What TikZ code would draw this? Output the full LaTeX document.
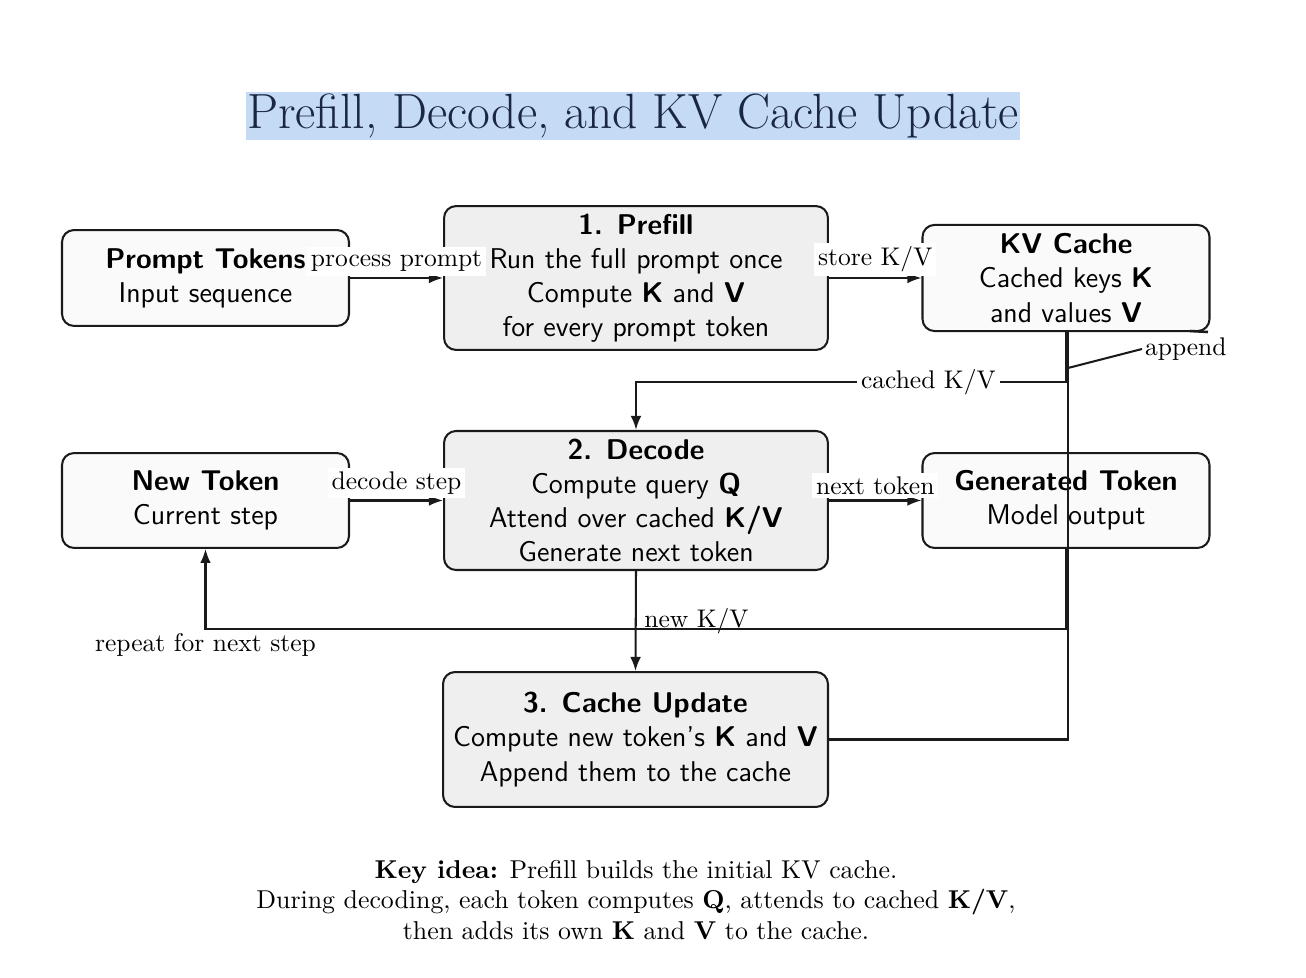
\documentclass[tikz,border=0pt]{standalone}
\usetikzlibrary{arrows.meta,positioning}
\definecolor{titlebg}{HTML}{C5DAF5}
\definecolor{titlefg}{HTML}{1A2744}
\definecolor{boxlight}{HTML}{FAFAFA}
\definecolor{boxgray}{HTML}{EFEFEF}
\definecolor{edgecol}{HTML}{1A1A1A}
\begin{document}
\begin{tikzpicture}[x=0.392pt,y=-0.392pt,
  box/.style={draw=edgecol, line width=0.8pt, rounded corners=4.7pt, align=center,
    font=\sffamily\fontsize{11.2}{13.4}\selectfont, inner sep=0pt},
  lightbox/.style={box, fill=boxlight},
  graybox/.style={box, fill=boxgray},
  conn/.style={draw=edgecol, line width=0.8pt},
  arr/.style={conn, -{Latex[length=5.5pt,width=4.2pt]}},
  elabel/.style={font=\fontsize{10}{12}\selectfont, fill=white, inner sep=1.5pt},
  plabel/.style={font=\fontsize{10}{12}\selectfont},
]
\useasboundingbox (0,0) rectangle (1306,978);

% title
\node[fill=titlebg, text=titlefg, font=\fontsize{19.4}{23}\selectfont,
      minimum width=303.4pt, minimum height=18.8pt, inner sep=0pt] (title) at (633,116)
  {Prefill, Decode, and KV Cache Update};

% boxes
\node[lightbox, minimum width=112.5pt, minimum height=37.6pt] (prompt) at (205.5,278)
  {\textbf{Prompt Tokens}\\Input sequence};
\node[graybox, minimum width=150.5pt, minimum height=56.4pt] (prefill) at (636,278)
  {\textbf{1. Prefill}\\Run the full prompt once\\Compute \textbf{K} and \textbf{V}\\for every prompt token};
\node[lightbox, minimum width=112.5pt, minimum height=41.6pt] (kv) at (1066,278)
  {\textbf{KV Cache}\\Cached keys \textbf{K}\\and values \textbf{V}};

\node[lightbox, minimum width=112.5pt, minimum height=37.2pt] (newtok) at (205.5,500.5)
  {\textbf{New Token}\\Current step};
\node[graybox, minimum width=150.5pt, minimum height=54.5pt] (decode) at (636,500.5)
  {\textbf{2. Decode}\\Compute query \textbf{Q}\\Attend over cached \textbf{K/V}\\Generate next token};
\node[lightbox, minimum width=112.5pt, minimum height=37.2pt] (gen) at (1066,500.5)
  {\textbf{Generated Token}\\Model output};

\node[graybox, minimum width=150.9pt, minimum height=52.9pt] (update) at (635.5,739.5)
  {\textbf{3. Cache Update}\\Compute new token's \textbf{K} and \textbf{V}\\Append them to the cache};

% connectors
\draw[arr] (prompt.east) -- node[elabel, midway, above=0.5pt] {process prompt} (prefill.west);
\draw[arr] (prefill.east) -- node[elabel, midway, above=0.5pt] {store K/V} (kv.west);
\draw[arr] (newtok.east) -- node[elabel, midway, above=0.5pt] {decode step} (decode.west);
\draw[arr] (decode.east) -- node[elabel, midway, above=0.5pt] {next token} (gen.west);

\coordinate (c1) at (1066,382);
\coordinate (c2) at (636,382);
\draw[arr] (kv.south) -- (c1) -- node[elabel, pos=0.32] {cached K/V} (c2) -- (decode.north);

\draw[arr] (decode.south) -- node[plabel, midway, anchor=west, inner sep=3pt] {new K/V} (update.north);

\coordinate (r1) at (1066,629);
\coordinate (r2) at (205.5,629);
\draw[arr] (gen.south) -- (r1) -- (r2) node[plabel, below, inner sep=1.5pt] {repeat for next step} -- (newtok.south);

\draw[conn] (update.east) -| ([xshift=0.8pt]kv.south);
\coordinate (apin) at (1068,368);
\node[plabel, anchor=west, inner sep=1pt] (applbl) at (1142,349) {append};
\draw[conn] (apin) -- (applbl.west);
\draw[edgecol, line width=1pt] (1190,331) -- (1208,332);

% note
\node[align=center, font=\fontsize{10.12}{12.1}\selectfont] (note) at (636,900)
  {\textbf{Key idea:} Prefill builds the initial KV cache.\\
   During decoding, each token computes \textbf{Q}, attends to cached \textbf{K/V},\\
   then adds its own \textbf{K} and \textbf{V} to the cache.};
\end{tikzpicture}
\end{document}
